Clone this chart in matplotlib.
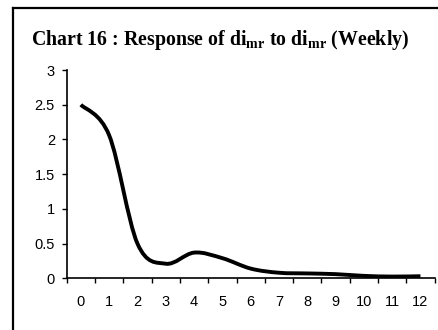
import numpy as np
import matplotlib.pyplot as plt
from matplotlib.path import Path
from matplotlib.patches import PathPatch
from matplotlib.lines import Line2D

# ------------------ DATA ------------------
weeks = list(range(13))
response = [2.5, 2.06, 0.5, 0.21, 0.37, 0.29, 0.14, 0.08, 0.07, 0.06, 0.035, 0.025, 0.03]
y_ticks = [0, 0.5, 1, 1.5, 2, 2.5, 3]
y_labels = ["0", "0.5", "1", "1.5", "2", "2.5", "3"]

plt.rcParams['font.family'] = ['Liberation Sans', 'DejaVu Sans']


def smooth_path(xs, ys):
    # excel style smoothed line: cubic bezier through every point
    pts = np.column_stack([xs, ys]).astype(float)
    n = len(pts)
    verts = [pts[0]]
    codes = [Path.MOVETO]
    for i in range(n - 1):
        p0 = pts[i - 1] if i > 0 else pts[i]
        p1 = pts[i]
        p2 = pts[i + 1]
        p3 = pts[i + 2] if i + 2 < n else pts[i + 1]
        c1 = p1 + (p2 - p0) / 6.0
        c2 = p2 - (p3 - p1) / 6.0
        verts += [c1, c2, p2]
        codes += [Path.CURVE4] * 3
    return Path(verts, codes)


# ------------------ FIGURE ------------------
fig = plt.figure(figsize=(4.38, 3.3), dpi=100)
ax = fig.add_axes([66.7 / 438, (330 - 278.3) / 330, (434.6 - 66.7) / 438, (278.3 - 70) / 330])

line = PathPatch(smooth_path(weeks, response), facecolor="none", edgecolor="black",
                 linewidth=2.8, capstyle="butt", joinstyle="round")
ax.add_patch(line)

ax.set_xlim(-0.5, 12.5)
ax.set_ylim(0, 3)
ax.set_xticks(weeks)
ax.set_xticklabels([str(w) for w in weeks])
ax.set_xticks(np.arange(-0.5, 12.6, 1), minor=True)
ax.set_yticks(y_ticks)
ax.set_yticklabels(y_labels)

ax.tick_params(axis="x", which="major", length=0, pad=12, labelsize=10.5)
ax.tick_params(axis="x", which="minor", length=3.5, width=1, direction="out")
ax.tick_params(axis="y", length=3.5, width=1, direction="out", pad=5, labelsize=10.5)

for side in ["top", "right"]:
    ax.spines[side].set_visible(False)
for side in ["left", "bottom"]:
    ax.spines[side].set_linewidth(1.2)

# title with subscripts
plt.rcParams['mathtext.fontset'] = 'custom'
title = r"Chart 16 : Response of di$_{\mathregular{mr}}$ to di$_{\mathregular{mr}}$ (Weekly)"
fig.text(220 / 438, 1 - 40 / 330, title, ha="center", va="center",
         fontsize=14.3, fontweight="bold", family="Liberation Serif")

# outer chart frame (cut by the picture on right and bottom)
fx = 12.5 / 438
fy = 1 - 8 / 330
fig.add_artist(Line2D([fx, fx], [0, fy], transform=fig.transFigure, color="black", linewidth=1.6))
fig.add_artist(Line2D([fx, 1], [fy, fy], transform=fig.transFigure, color="black", linewidth=1.6))

fig.savefig("out.png", dpi=100)
